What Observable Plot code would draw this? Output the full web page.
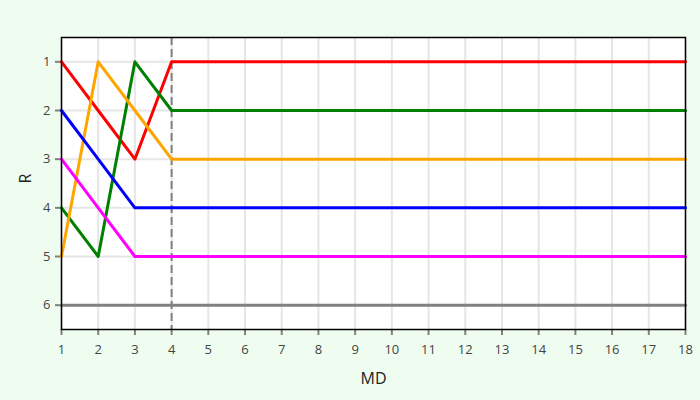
<!DOCTYPE html>
<html><head><meta charset="utf-8">
<script src="https://cdn.jsdelivr.net/npm/d3@7"></script>
<script src="https://cdn.jsdelivr.net/npm/@observablehq/plot@0.6"></script>
<style>
html,body{margin:0;padding:0;background:#effdf0;}
svg{font-family:"Open Sans",sans-serif;}
</style></head><body>
<div id="chart"></div>
<script>
const md = d3.range(1, 19);
const seriesNames = ["red", "green", "orange", "blue", "magenta", "gray"];
const seriesColors = ["#ff0000", "#008000", "#ffa500", "#0000ff", "#ff00ff", "#808080"];
// first four matchdays, then constant
const redR     = [1, 2, 3, 1];
const greenR   = [4, 5, 1, 2];
const orangeR  = [5, 1, 2, 3];
const blueR    = [2, 3, 4, 4];
const magentaR = [3, 4, 5, 5];
const grayR    = [6, 6, 6, 6];
const allR = [redR, greenR, orangeR, blueR, magentaR, grayR];
const yTicks = [1, 2, 3, 4, 5, 6];
const dashedMD = 4;

const data = [];
seriesNames.forEach((s, i) => {
  md.forEach(m => {
    const arr = allR[i];
    data.push({series: s, MD: m, R: m <= arr.length ? arr[m - 1] : arr[arr.length - 1]});
  });
});

const chart = Plot.plot({
  width: 700, height: 400,
  marginLeft: 61, marginRight: 15, marginTop: 37, marginBottom: 71,
  style: {background: "transparent", fontSize: "13px", color: "#444"},
  x: {domain: [1, 18], ticks: md, tickFormat: d => d, tickSize: 6, tickPadding: 9, label: null},
  y: {domain: [0.5, 6.5], reverse: true, ticks: yTicks, tickFormat: d => d, tickSize: 6, tickPadding: 5, label: null},
  color: {domain: seriesNames, range: seriesColors},
  marks: [
    Plot.frame({fill: "white"}),
    Plot.gridX(md, {stroke: "#e6e6e6", strokeOpacity: 1, strokeWidth: 2}),
    Plot.gridY(yTicks, {stroke: "#e6e6e6", strokeOpacity: 1, strokeWidth: 2}),
    Plot.ruleX([dashedMD], {stroke: "#808080", strokeWidth: 2, strokeDasharray: "8,4"}),
    Plot.line(data, {x: "MD", y: "R", z: "series", stroke: "series", strokeWidth: 3}),
    Plot.frame({stroke: "black", strokeWidth: 1.5}),
    Plot.text(["MD"], {frameAnchor: "bottom", dy: 54, fontSize: 16, fill: "#222"}),
    Plot.text(["R"], {frameAnchor: "left", dx: -36, rotate: -90, fontSize: 16, fill: "#222"})
  ]
});
chart.querySelectorAll('g[aria-label="x-axis tick"], g[aria-label="y-axis tick"]').forEach(g => {
  g.setAttribute("stroke", "#808080");
  g.setAttribute("stroke-width", "2");
});
document.getElementById("chart").appendChild(chart);
</script>
</body></html>
